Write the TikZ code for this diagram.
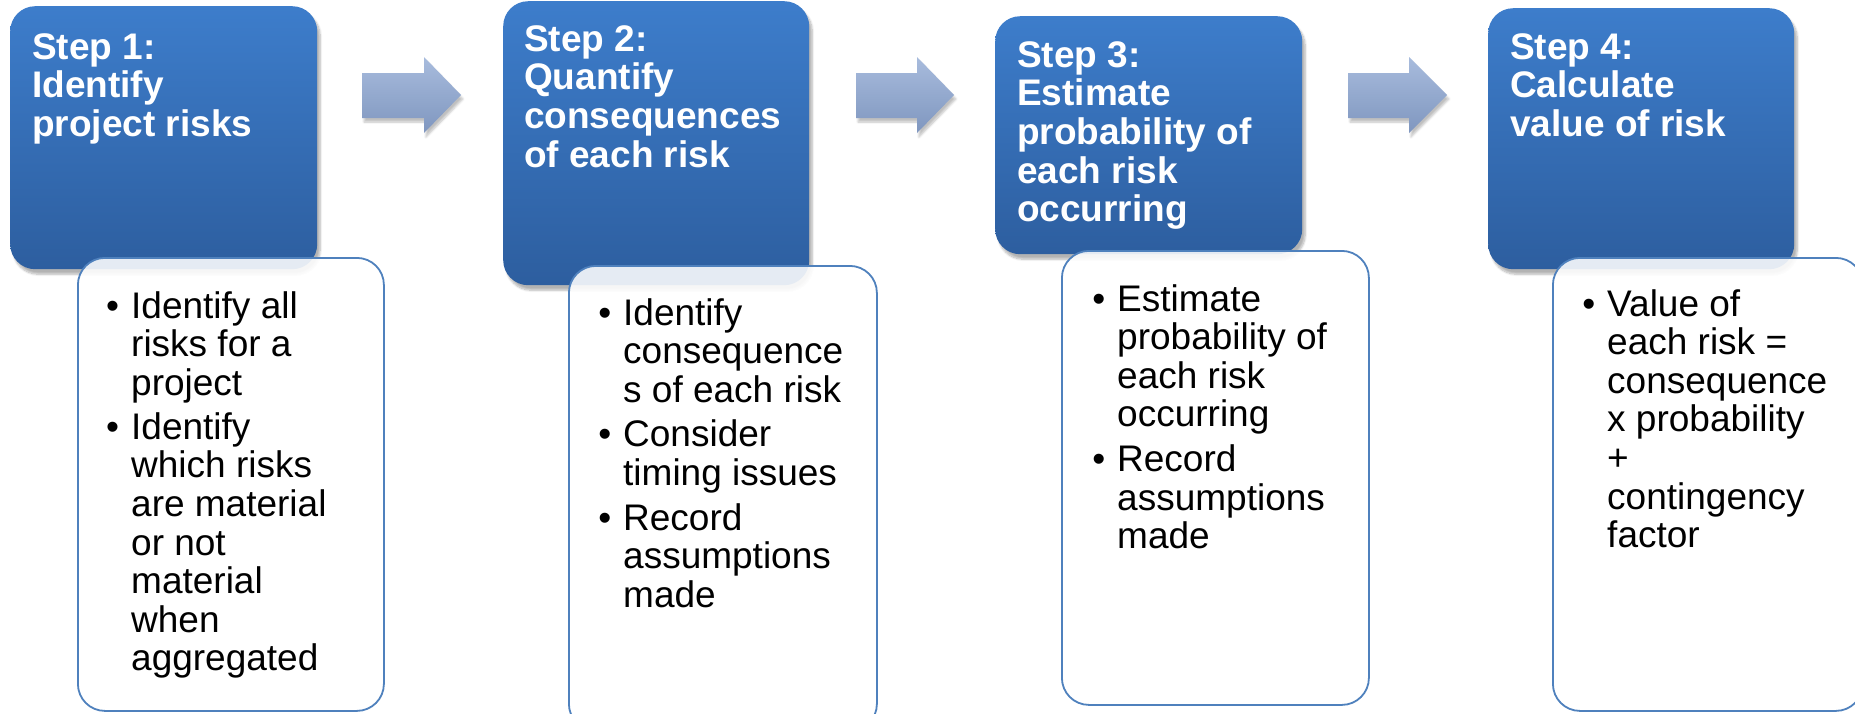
\documentclass[tikz,border=0pt]{standalone}
\usepackage{fontspec}
\setmainfont{Liberation Sans}
\usetikzlibrary{shadows.blur}
\definecolor{btop}{HTML}{3D7DCB}
\definecolor{bbot}{HTML}{2D5E9F}
\definecolor{atop}{HTML}{A8BCDD}
\definecolor{abot}{HTML}{7F96BF}
\definecolor{wborder}{HTML}{4F81BD}
\newcommand\bul{\llap{\textbullet\hspace{12pt}}}
\tikzset{
 bluebox/.style={rectangle, rounded corners=25pt, top color=btop, bottom color=bbot, draw=none, anchor=north west, inner sep=0pt,
   blur shadow={shadow xshift=3pt, shadow yshift=-5pt, shadow opacity=30, shadow blur steps=8}},
 whitebox/.style={rectangle, rounded corners=27pt, fill=white, fill opacity=0.88, draw=wborder, line width=1.8pt, anchor=north west, inner sep=0pt},
 titletext/.style={font=\bfseries\fontsize{37pt}{38.7pt}\selectfont, text=white, align=left, inner sep=0pt, anchor=base west},
 bodytext/.style={font=\fontsize{37pt}{38.6pt}\selectfont, text=black, align=left, inner sep=0pt, anchor=base west},
 blockarrow/.style={top color=atop, bottom color=abot, draw=none,
   blur shadow={shadow xshift=2pt, shadow yshift=-4pt, shadow opacity=25, shadow blur steps=6}}
}
\begin{document}
\begin{tikzpicture}[x=1pt,y=-1pt]
\useasboundingbox (0,0) rectangle (1855,713);
% Step 1
\node[bluebox, minimum width=307pt, minimum height=263pt] (s1) at (10,6) {};
\node[whitebox, minimum width=306pt, minimum height=453pt] (w1) at (77,257) {};
\node[titletext] (t1) at (32,136.4) {Step 1:\\Identify\\project risks};
\node[bodytext] (b1) at (131,670.9) {\bul Identify all\\risks for a\\project\\[5.5pt]\bul Identify\\which risks\\are material\\or not\\material\\when\\aggregated};
% Step 2
\node[bluebox, minimum width=306pt, minimum height=284pt] (s2) at (503,1) {};
\node[whitebox, minimum width=308pt, minimum height=465pt] (w2) at (568,265) {};
\node[titletext] (t2) at (524,167.1) {Step 2:\\Quantify\\consequences\\of each risk};
\node[bodytext] (b2) at (623,607.2) {\bul Identify\\consequence\\s of each risk\\[6pt]\bul Consider\\timing issues\\[6pt]\bul Record\\assumptions\\made};
% Step 3
\node[bluebox, minimum width=307pt, minimum height=238pt] (s3) at (995,16) {};
\node[whitebox, minimum width=307pt, minimum height=454pt] (w3) at (1061,250) {};
\node[titletext] (t3) at (1017,221.8) {Step 3:\\Estimate\\probability of\\each risk\\occurring};
\node[bodytext] (b3) at (1117,548.6) {\bul Estimate\\probability of\\each risk\\occurring\\[6pt]\bul Record\\assumptions\\made};
% Step 4
\node[bluebox, minimum width=306pt, minimum height=261pt] (s4) at (1488,8) {};
\node[whitebox, minimum width=310pt, minimum height=453pt] (w4) at (1552,257) {};
\node[titletext] (t4) at (1510,136.4) {Step 4:\\Calculate\\value of risk};
\node[bodytext] (b4) at (1607,547.6) {\bul Value of\\each risk =\\consequence\\x probability\\+\\contingency\\factor};
% block arrows
\path[blockarrow] (362,73) -- (424,73) -- (424,57) -- (461,95) -- (424,133) -- (424,118) -- (362,118) -- cycle;
\path[blockarrow] (856,73) -- (917,73) -- (917,57) -- (954,95) -- (917,133) -- (917,118) -- (856,118) -- cycle;
\path[blockarrow] (1348,73) -- (1409,73) -- (1409,57) -- (1447,95) -- (1409,133) -- (1409,118) -- (1348,118) -- cycle;
\end{tikzpicture}
\end{document}
